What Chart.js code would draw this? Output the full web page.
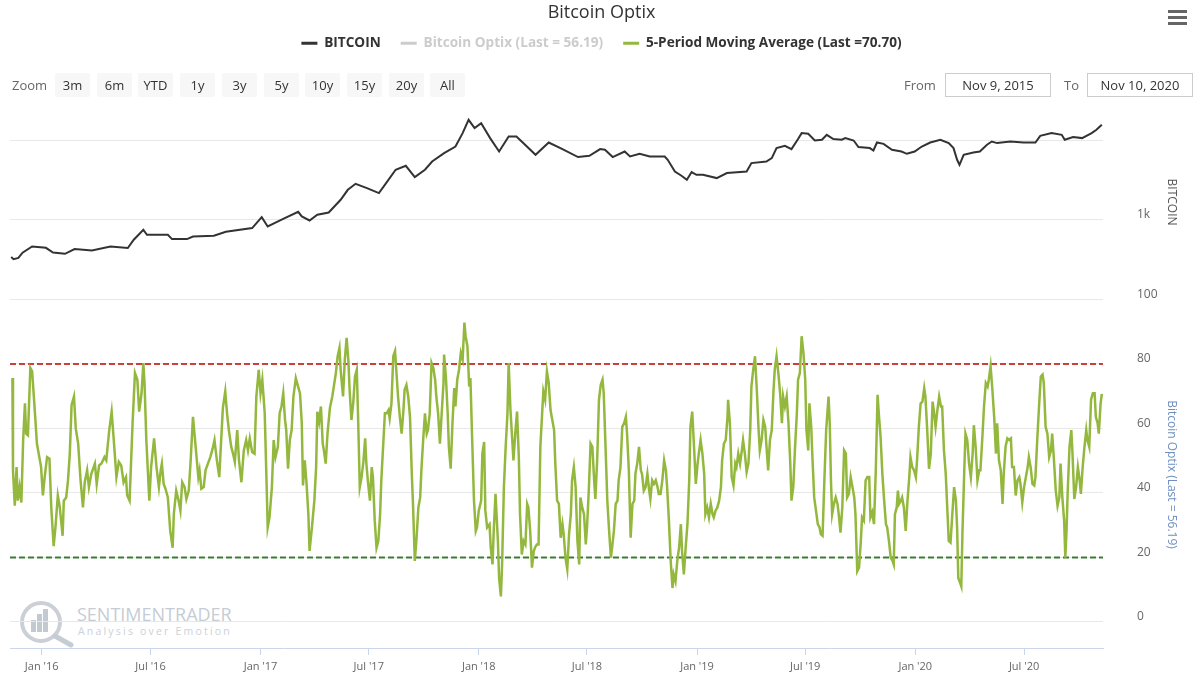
<!DOCTYPE html>
<html>
<head>
<meta charset="utf-8">
<title>Bitcoin Optix</title>
<script src="https://cdn.jsdelivr.net/npm/chart.js@4.4.0/dist/chart.umd.min.js"></script>
<style>
  html, body { margin: 0; padding: 0; background: #fff; }
  body { font-family: 'Open Sans', sans-serif; }
  #wrap { position: relative; width: 1200px; height: 686px; overflow: hidden; }
  #chart { position: absolute; left: 0; top: 0; z-index: 2; }
  .ui { position: absolute; z-index: 3; font-size: 13px; }
  .lbl { color: #666; top: 76px; }
  .btn { top: 73px; width: 35px; height: 24px; line-height: 24px; text-align: center; background: #f7f7f7; color: #333; border-radius: 2px; }
  .box { top: 73px; width: 106px; height: 24px; line-height: 22px; box-sizing: border-box; border: 1px solid #ccc; text-align: center; color: #333; }
  .bar { position: absolute; left: 0; width: 19px; height: 3px; background: #666; }
  #mark { position: absolute; left: 0; top: 590px; z-index: 1; }
  #mark .t1 { position: absolute; left: 77px; top: 12px; font-size: 18px; color: #c6ccd4; letter-spacing: 0px; white-space: nowrap; }
  #mark .t2 { position: absolute; left: 78px; top: 34px; font-size: 10.5px; color: #ccd1d8; letter-spacing: 2.2px; white-space: nowrap; }
</style>
</head>
<body>
<div id="wrap">
  <div id="mark">
    <svg width="80" height="60" style="position:absolute;left:0;top:0">
      <circle cx="41" cy="32" r="19" fill="none" stroke="#cbd0d7" stroke-width="4"/>
      <rect x="31" y="30" width="5" height="12" fill="#c3c9d1"/>
      <rect x="37" y="24" width="5" height="18" fill="#c3c9d1"/>
      <rect x="43" y="19" width="5" height="23" fill="#c3c9d1"/>
      <line x1="55" y1="46" x2="71" y2="55" stroke="#c6ccd4" stroke-width="5" stroke-linecap="round"/>
    </svg>
    <div class="t1">SENTIMENTRADER</div>
    <div class="t2">Analysis over Emotion</div>
  </div>
  <canvas id="chart" width="1200" height="686"></canvas>
  <div id="controls"></div>
  <div class="ui" style="left:1168px;top:10px;width:19px;height:16px">
    <div class="bar" style="top:0"></div>
    <div class="bar" style="top:6px"></div>
    <div class="bar" style="top:12px"></div>
  </div>
</div>
<script>
// Daten (Tage ab 9. Nov 2015)
const startDate = '2015-11-09';
const endDay = 1828;

const btcDay = [2, 6, 14, 21, 37, 60, 72, 92, 108, 137, 168, 197, 207, 223, 229, 264, 271, 296, 306, 341,
  361, 405, 421, 431, 456, 482, 488, 501, 514, 533, 553, 565, 578, 597, 617, 629, 645, 662, 677, 694,
  706, 726, 745, 757, 767, 777, 788, 803, 818, 834, 847, 879, 901, 924, 950, 969, 987, 995, 1008, 1028,
  1037, 1053, 1070, 1095, 1100, 1112, 1123, 1132, 1140, 1148, 1159, 1182, 1199, 1232, 1240, 1265, 1274, 1282, 1296, 1307,
  1318, 1324, 1335, 1346, 1358, 1366, 1377, 1391, 1397, 1411, 1419, 1438, 1444, 1450, 1461, 1475, 1491, 1500, 1513, 1525,
  1539, 1556, 1570, 1578, 1584, 1588, 1595, 1611, 1622, 1634, 1642, 1651, 1673, 1695, 1715, 1723, 1742, 1759, 1764, 1778,
  1793, 1809, 1817, 1826];
const btcPrice = [340, 318, 330, 384, 460, 443, 387, 372, 427, 410, 460, 440, 560, 748, 647, 647, 571, 571, 615, 628,
  706, 786, 1081, 823, 1021, 1262, 1101, 980, 1156, 1236, 1787, 2388, 2844, 2512, 2173, 2904, 4276, 4800, 3454, 4276,
  5433, 6935, 8395, 12390, 18240, 14320, 16560, 10720, 7260, 11220, 11220, 6600, 9440, 7790, 6180, 6410, 7800, 7635, 6180, 7260,
  6285, 6795, 6285, 6285, 5710, 4064, 3590, 3193, 3996, 3690, 3690, 3357, 3880, 4064, 5188, 5433, 6000, 8020, 8575, 7790,
  10420, 12390, 12160, 10000, 10210, 11800, 10420, 10210, 10720, 10000, 8260, 8020, 7480, 9440, 9080, 7635, 7260, 6795, 7260, 8395,
  9440, 10210, 9270, 8020, 5710, 4940, 6600, 7060, 7260, 8830, 9710, 9270, 9710, 9440, 9440, 11460, 12390, 11800, 10210, 11040,
  10720, 12390, 13650, 15780];

const optixDay = [4, 5, 8, 11, 13, 16, 19, 22, 25, 27, 30, 34, 37, 41, 45, 50, 52, 55, 58, 62,
  66, 69, 73, 76, 80, 83, 88, 90, 94, 97, 100, 103, 107, 110, 114, 118, 122, 125, 129, 132,
  136, 142, 145, 149, 153, 158, 161, 166, 170, 174, 178, 182, 186, 190, 194, 196, 200, 205, 209, 213,
  216, 220, 223, 225, 228, 233, 236, 241, 245, 249, 252, 254, 257, 260, 264, 268, 272, 274, 278, 282,
  285, 288, 292, 295, 299, 302, 306, 310, 315, 317, 320, 324, 327, 331, 335, 339, 342, 346, 350, 352,
  356, 360, 363, 366, 370, 373, 376, 380, 383, 387, 391, 395, 398, 401, 405, 409, 412, 416, 419, 422,
  426, 429, 431, 434, 438, 441, 444, 448, 451, 454, 457, 460, 462, 465, 468, 471, 474, 478, 481, 485,
  488, 490, 493, 496, 499, 501, 505, 509, 512, 514, 517, 520, 523, 525, 528, 531, 535, 539, 542, 545,
  548, 551, 553, 557, 560, 563, 566, 568, 571, 574, 577, 580, 582, 585, 588, 591, 594, 596, 599, 602,
  605, 607, 610, 613, 616, 619, 621, 624, 627, 630, 633, 635, 638, 641, 644, 646, 649, 652, 655, 658,
  660, 663, 666, 669, 672, 674, 677, 680, 683, 686, 688, 691, 694, 697, 699, 702, 705, 708, 711, 713,
  716, 719, 722, 725, 726, 729, 732, 734, 737, 740, 743, 745, 748, 751, 754, 757, 760, 762, 765, 768,
  770, 773, 776, 779, 781, 784, 788, 790, 793, 795, 798, 802, 804, 807, 809, 812, 816, 818, 821, 823,
  826, 829, 832, 834, 837, 840, 842, 845, 848, 851, 853, 856, 859, 862, 865, 867, 870, 873, 876, 878,
  881, 884, 887, 890, 892, 895, 898, 901, 904, 910, 912, 915, 918, 921, 924, 926, 929, 932, 935, 938,
  940, 943, 946, 949, 952, 954, 957, 960, 963, 965, 968, 971, 974, 977, 979, 982, 985, 988, 991, 993,
  996, 999, 1002, 1005, 1007, 1010, 1013, 1016, 1018, 1021, 1024, 1027, 1030, 1032, 1035, 1038, 1041, 1044, 1046, 1049,
  1052, 1055, 1057, 1060, 1063, 1066, 1069, 1071, 1074, 1077, 1080, 1083, 1085, 1088, 1091, 1094, 1097, 1099, 1102, 1105,
  1108, 1110, 1113, 1116, 1119, 1122, 1124, 1127, 1130, 1133, 1136, 1138, 1141, 1144, 1147, 1150, 1152, 1155, 1158, 1161,
  1163, 1166, 1169, 1172, 1175, 1177, 1180, 1183, 1186, 1189, 1191, 1194, 1197, 1200, 1201, 1204, 1207, 1210, 1213, 1215,
  1218, 1221, 1224, 1226, 1229, 1232, 1235, 1238, 1240, 1243, 1246, 1249, 1252, 1254, 1257, 1260, 1263, 1266, 1268, 1271,
  1274, 1277, 1279, 1282, 1285, 1288, 1291, 1293, 1296, 1299, 1302, 1305, 1307, 1310, 1313, 1316, 1318, 1321, 1324, 1327,
  1330, 1332, 1335, 1337, 1340, 1342, 1345, 1348, 1351, 1354, 1356, 1359, 1362, 1365, 1369, 1371, 1373, 1375, 1378, 1381,
  1384, 1386, 1389, 1392, 1395, 1398, 1400, 1403, 1406, 1409, 1412, 1414, 1417, 1420, 1423, 1425, 1428, 1431, 1434, 1437,
  1439, 1442, 1445, 1448, 1451, 1453, 1456, 1459, 1462, 1465, 1467, 1470, 1473, 1476, 1478, 1480, 1483, 1485, 1487, 1490,
  1492, 1495, 1498, 1501, 1504, 1506, 1509, 1512, 1515, 1517, 1520, 1523, 1526, 1529, 1531, 1534, 1537, 1540, 1543, 1545,
  1548, 1551, 1554, 1557, 1559, 1562, 1565, 1568, 1570, 1573, 1576, 1579, 1582, 1584, 1586, 1589, 1591, 1593, 1596, 1598,
  1601, 1604, 1607, 1610, 1612, 1615, 1618, 1621, 1623, 1626, 1629, 1632, 1635, 1637, 1640, 1643, 1646, 1649, 1651, 1654,
  1657, 1660, 1662, 1665, 1668, 1671, 1674, 1676, 1679, 1682, 1685, 1688, 1690, 1693, 1696, 1699, 1702, 1704, 1707, 1710,
  1713, 1715, 1718, 1721, 1724, 1727, 1729, 1732, 1735, 1738, 1741, 1743, 1746, 1749, 1752, 1755, 1757, 1760, 1763, 1765,
  1767, 1769, 1772, 1775, 1777, 1780, 1783, 1786, 1789, 1791, 1794, 1797, 1800, 1802, 1805, 1808, 1811, 1814, 1816, 1819,
  1821, 1824, 1826];
const optixMA = [75.6, 47, 36, 48, 37.6, 41.8, 37, 56.4, 67.8, 58.4, 57.9, 78.8, 77.7, 66.8, 55.3, 50.1, 48, 39.2, 44.9, 51.1,
  50.6, 35.5, 23.5, 29.3, 39.2, 36, 26.7, 37.6, 38.6, 43.9, 52.2, 67.3, 69.9, 60, 55.3, 43.9, 35.5, 43.3, 47, 41.8,
  45.9, 49.1, 42.8, 48.5, 49.1, 51.1, 50.1, 59.5, 65.2, 55.3, 44.9, 49.6, 48.5, 43.3, 44.9, 39.2, 37.6, 61.6, 77.2, 75.1,
  65.2, 70.9, 80.3, 74.1, 56.4, 37.6, 48, 56.9, 48, 41.8, 47, 49.1, 42.8, 41.3, 38.6, 28.2, 23, 33.4, 40.7, 37.6,
  34.5, 43.3, 41.8, 38.1, 40.7, 49.6, 63.6, 55.3, 44.9, 47, 41.3, 41.8, 47, 49.1, 51.1, 53.8, 56.4, 50.1, 44.9, 52.2,
  66.3, 71.5, 64.7, 59.5, 54.3, 52.2, 49.6, 59.5, 50.1, 43.3, 53.2, 56.4, 53.2, 56.9, 52.7, 52.2, 69.9, 78.2, 70.9, 75.1,
  64.7, 43.9, 29.3, 32.4, 41.8, 56.4, 51.1, 54.3, 64.7, 66.8, 70.9, 62.6, 59.5, 47.5, 56.4, 59.5, 69.9, 75.6, 73.5, 70.9,
  61.6, 42.3, 50.1, 42.8, 33.4, 22, 29.3, 37.6, 48, 65.2, 62.1, 66.8, 55.3, 53.2, 49.1, 58.4, 66.3, 69.9, 73.5, 77.2,
  82.4, 85, 78.2, 69.9, 81.4, 88.1, 80.8, 72, 62.6, 67.8, 76.1, 78.2, 64.7, 41.8, 44.9, 49.6, 56.9, 49.1, 42.8, 37.6,
  48, 44.9, 31.4, 23, 25.1, 33.4, 43.9, 54.3, 64.7, 64.7, 65.7, 63.1, 67.8, 82.4, 84, 78.2, 69.9, 63.6, 58.4, 65.7,
  72, 73.5, 69.9, 63.6, 45.9, 36.6, 18.9, 26.1, 35.5, 38.6, 47, 56.4, 64.7, 58.4, 59.5, 64.7, 80.3, 78.8, 75.1, 69.9,
  64.7, 55.3, 64.7, 74.1, 82.9, 76.1, 64.7, 54.3, 47.5, 61.6, 72.5, 66.8, 75.1, 78.2, 83.4, 81.4, 92.8, 88.6, 85.5, 73,
  75.6, 56.4, 37.6, 28.2, 29.3, 34.5, 37.6, 52.2, 55.8, 34.5, 29.3, 30.3, 23, 17.8, 28.2, 39.7, 25.1, 13.6, 7.9, 17.8,
  41.8, 54.3, 64.7, 80.3, 65.7, 56.4, 50.1, 58.4, 65.2, 51.1, 33.4, 20.9, 25.1, 24, 36.6, 35.5, 28.2, 16.8, 22, 23,
  24, 24, 54.3, 64.7, 71.5, 68.9, 77.7, 74.1, 65.7, 59.5, 49.1, 37.6, 36.6, 26.1, 30.3, 27.2, 19.9, 16.3, 27.2, 33.4,
  43.9, 48, 41.8, 25.1, 17.8, 38.6, 35.5, 33.4, 24, 29.3, 40.7, 55.3, 54.3, 43.9, 38.1, 50.1, 68.9, 73.5, 75.1, 70.9,
  54.3, 37.6, 28.2, 19.9, 23, 28.2, 36.6, 37.6, 43.9, 48, 60.5, 61.6, 63.6, 58.4, 47, 26.1, 36.6, 37.6, 45.9, 49.1,
  54.3, 47, 45.9, 40.7, 41.8, 45.9, 40.7, 38.1, 43.9, 42.8, 43.9, 41.8, 39.7, 39.7, 43.9, 50.1, 47, 41.8, 31.4, 18.9,
  10.5, 14.7, 12.6, 18.9, 23, 30.3, 21.9, 14.7, 23, 30.3, 43.9, 60.5, 65.2, 54.3, 42.8, 49.1, 52.2, 56.4, 52.2, 45.9,
  33.4, 35.5, 32.4, 36.6, 33.4, 32.4, 34.5, 35.5, 37.6, 41.8, 50.1, 55.3, 56.4, 63.6, 68.9, 61.6, 44.9, 42.3, 49.1, 48,
  52.2, 49.1, 53.2, 56.4, 52.2, 46.5, 49.1, 59.5, 73, 78.2, 82.4, 72, 59.5, 53.2, 56.4, 62.6, 60.5, 52.2, 47, 56.4,
  59.5, 72, 78.2, 82.4, 77.2, 70.9, 61.6, 69.9, 66.8, 69.9, 61.6, 49.1, 37.6, 41.8, 54.3, 64.7, 75.1, 77.2, 88.6, 83.4,
  75.1, 59.5, 53.2, 67.8, 60.5, 51.1, 38.6, 34.5, 30.3, 29.3, 27.2, 26.7, 43.9, 59.5, 69.9, 61.6, 43.9, 33.4, 36.6, 38.6,
  36.6, 33.4, 27.7, 35.5, 53.2, 52.2, 38.6, 39.7, 44.9, 41.8, 38.6, 33.4, 15.7, 16.8, 25.1, 32.4, 31.4, 43.9, 44.9, 44.9,
  32.4, 34, 30.3, 47, 70.4, 64.7, 57.4, 45.9, 37.6, 30.3, 29.3, 25.1, 19.9, 18.9, 17.8, 33.4, 35.5, 40.7, 36.6, 37.6,
  38.6, 35.5, 28.2, 37.6, 44.9, 51.1, 48, 47, 44.9, 50.1, 60.5, 67.8, 68.3, 72.5, 69.9, 59.5, 47.5, 52.2, 68.3, 65.7,
  60.5, 65.7, 69.9, 66.8, 66.8, 53.2, 45.9, 33.4, 25.1, 24.6, 33.4, 41.8, 37.6, 29.3, 13.6, 12.1, 11, 28.2, 47, 58.4,
  56.4, 49.1, 44.9, 52.2, 61, 54.3, 43.9, 47, 47, 56.4, 66.8, 74.1, 73, 75.1, 79.3, 72, 63.6, 52.2, 61.6, 50.1,
  47, 36.6, 45.9, 54.3, 56.9, 56.4, 56.9, 48, 48, 39.2, 43.9, 44.9, 42.8, 37.1, 41.8, 44.9, 48, 51.1, 48, 42.8,
  42.3, 44.9, 56.4, 66.8, 76.1, 76.7, 74.1, 60.5, 58.4, 51.1, 53.2, 58.4, 50.1, 40.7, 36, 38.6, 49.1, 38.6, 31.4, 19.9,
  28.2, 40.7, 54.3, 59.5, 52.2, 38.1, 41.8, 48, 43.9, 39.7, 48, 54.3, 59.5, 56.4, 54.3, 68.9, 70.9, 70.9, 63.6, 61.6,
  58.4, 67.8, 70.7];

const upperLevel = 80;
const lowerLevel = 20;
const optixLast = 56.19;
const maLast = 70.70;

const xTickDates = ['2016-01-01', '2016-07-01', '2017-01-01', '2017-07-01', '2018-01-01',
  '2018-07-01', '2019-01-01', '2019-07-01', '2020-01-01', '2020-07-01'];
const xTickLabels = ["Jan '16", "Jul '16", "Jan '17", "Jul '17", "Jan '18",
  "Jul '18", "Jan '19", "Jul '19", "Jan '20", "Jul '20"];
const btcTicks = [100, 1000, 10000];
const btcTickLabels = ['100', '1k', ''];
const optixTicks = [0, 20, 40, 60, 80];

const zoomButtons = ['3m', '6m', 'YTD', '1y', '3y', '5y', '10y', '15y', '20y', 'All'];
const fromText = 'Nov 9, 2015';
const toText = 'Nov 10, 2020';

const dayMs = 86400000;
const xTickDays = xTickDates.map(d => Math.round((Date.parse(d) - Date.parse(startDate)) / dayMs));

const FONT = "'Open Sans', sans-serif";
const green = '#93b83d';

// range selector (nur Optik)
const controls = document.getElementById('controls');
let html = '<div class="ui lbl" style="left:12px">Zoom</div>';
zoomButtons.forEach((b, i) => {
  const left = Math.round(55 + i * 41.7);
  html += '<div class="ui btn" style="left:' + left + 'px">' + b + '</div>';
});
html += '<div class="ui lbl" style="left:904px">From</div>';
html += '<div class="ui box" style="left:945px">' + fromText + '</div>';
html += '<div class="ui lbl" style="left:1064px">To</div>';
html += '<div class="ui box" style="left:1087px">' + toText + '</div>';
controls.innerHTML = html;

const legendEntries = [
  { text: 'BITCOIN', color: '#333333', textColor: '#333333' },
  { text: 'Bitcoin Optix (Last = ' + optixLast.toFixed(2) + ')', color: '#cccccc', textColor: '#cccccc' },
  { text: '5-Period Moving Average (Last =' + maLast.toFixed(2) + ')', color: green, textColor: '#333333' }
];

// rechte Achsen: feste Breite, keine Randpolster (sonst schrumpft die Flaeche)
const fitRightAxis = (scale) => {
  scale.width = 90;
  scale.paddingTop = 0;
  scale.paddingBottom = 0;
};

const ctx = document.getElementById('chart').getContext('2d');
new Chart(ctx, {
  type: 'line',
  data: {
    datasets: [
      {
        label: 'BITCOIN',
        data: btcDay.map((d, i) => ({ x: d, y: btcPrice[i] })),
        yAxisID: 'yBtc',
        borderColor: '#333333',
        borderWidth: 2,
        pointRadius: 0,
        tension: 0,
        order: 1
      },
      {
        label: '5-Period Moving Average',
        data: optixDay.map((d, i) => ({ x: d, y: optixMA[i] })),
        yAxisID: 'yOptix',
        borderColor: green,
        borderWidth: 2.5,
        pointRadius: 0,
        tension: 0,
        order: 0
      },
      {
        label: 'upper',
        data: [{ x: 0, y: upperLevel }, { x: endDay, y: upperLevel }],
        yAxisID: 'yOptix',
        borderColor: '#c9413b',
        borderWidth: 2,
        borderDash: [6, 3],
        pointRadius: 0,
        order: 2
      },
      {
        label: 'lower',
        data: [{ x: 0, y: lowerLevel }, { x: endDay, y: lowerLevel }],
        yAxisID: 'yOptix',
        borderColor: '#3c7a36',
        borderWidth: 2,
        borderDash: [6, 3],
        pointRadius: 0,
        order: 2
      }
    ]
  },
  options: {
    responsive: false,
    animation: false,
    events: [],
    layout: { padding: { left: 10, right: 7, top: 0, bottom: 7 } },
    plugins: {
      title: {
        display: true,
        text: 'Bitcoin Optix',
        color: '#333333',
        font: { family: FONT, size: 18, weight: 'normal', lineHeight: 1 },
        padding: { top: 4, bottom: -5.5 }
      },
      legend: {
        display: true,
        position: 'top',
        weight: 1000,
        labels: {
          boxWidth: 16,
          boxHeight: 3,
          padding: 20,
          color: '#333333',
          font: { family: FONT, size: 13.6, weight: 'bold' },
          generateLabels: () => legendEntries.map((e, i) => ({
            text: e.text,
            fillStyle: e.color,
            strokeStyle: e.color,
            lineWidth: 0,
            fontColor: e.textColor,
            hidden: false,
            datasetIndex: i
          }))
        }
      },
      // leerer Untertitel als Abstand fuer die Zoom-Leiste
      subtitle: {
        display: true,
        text: ' ',
        weight: 500,
        font: { family: FONT, size: 10, lineHeight: 1 },
        padding: { top: 0, bottom: 33 }
      },
      tooltip: { enabled: false }
    },
    scales: {
      x: {
        type: 'linear',
        min: 0,
        max: endDay,
        afterBuildTicks: (scale) => { scale.ticks = xTickDays.map(v => ({ value: v })); },
        afterFit: (scale) => { scale.height = 31; },
        grid: { display: true, drawOnChartArea: false, drawTicks: true, tickLength: 7, color: '#ccd6eb' },
        border: { display: true, color: '#ccd6eb' },
        ticks: {
          autoSkip: false,
          maxRotation: 0,
          padding: 5,
          color: '#666666',
          font: { family: FONT, size: 11 },
          callback: (value, index) => xTickLabels[index]
        }
      },
      yBtc: {
        type: 'logarithmic',
        position: 'right',
        stack: 'panes',
        stackWeight: 198,
        weight: 1,
        min: 94.4,
        max: 29620,
        afterBuildTicks: (scale) => { scale.ticks = btcTicks.map(v => ({ value: v })); },
        afterFit: fitRightAxis,
        grid: { color: '#e8e8e8', drawTicks: false },
        border: { display: false },
        ticks: {
          padding: 34,
          crossAlign: 'near',
          labelOffset: -5,
          color: '#666666',
          font: { family: FONT, size: 12 },
          callback: (value, index) => btcTickLabels[index]
        },
        title: {
          display: true,
          text: 'BITCOIN',
          color: '#555555',
          font: { family: FONT, size: 12 },
          padding: { top: 14, bottom: 0 }
        }
      },
      yOptix: {
        type: 'linear',
        position: 'right',
        stack: 'panes',
        stackWeight: 347,
        weight: 2,
        min: -8.1,
        max: 99.5,
        afterBuildTicks: (scale) => { scale.ticks = optixTicks.map(v => ({ value: v })); },
        afterFit: fitRightAxis,
        grid: { color: '#e8e8e8', drawTicks: false },
        border: { display: false },
        ticks: {
          padding: 34,
          crossAlign: 'near',
          labelOffset: -5,
          color: '#666666',
          font: { family: FONT, size: 12 },
          callback: (value) => String(value)
        },
        title: {
          display: true,
          text: 'Bitcoin Optix (Last = ' + optixLast.toFixed(2) + ')',
          color: '#6f8fc0',
          font: { family: FONT, size: 12 },
          padding: { top: 14, bottom: 0 }
        }
      }
    }
  }
});
</script>
</body>
</html>
